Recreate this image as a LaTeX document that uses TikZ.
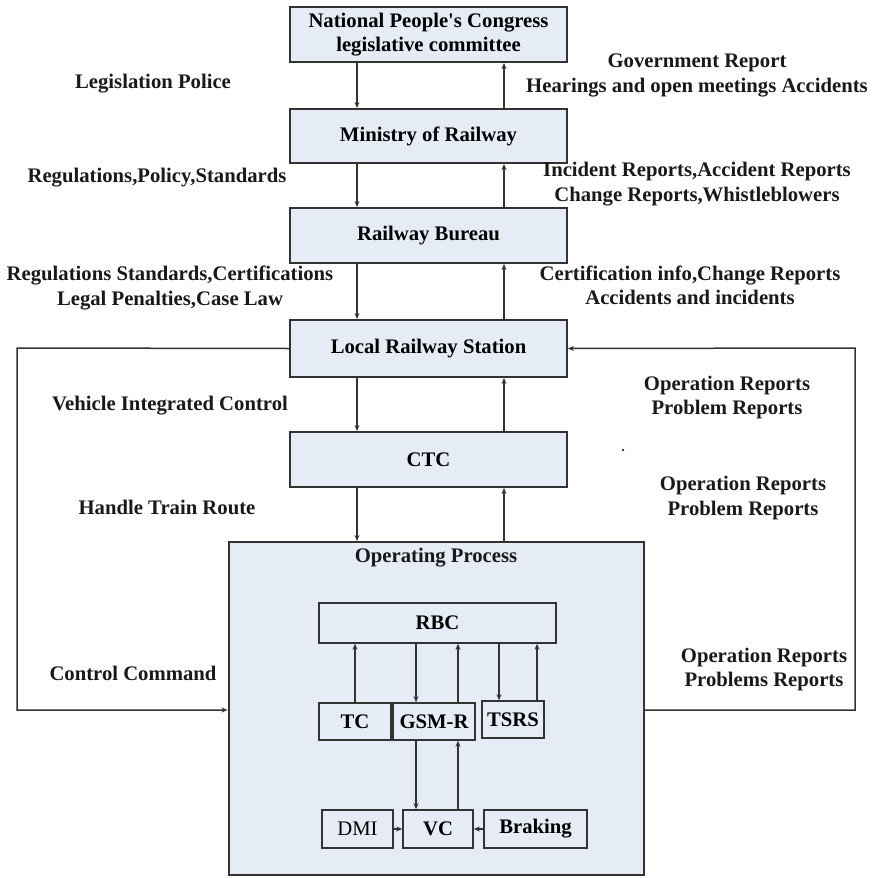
\documentclass[tikz,border=0pt]{standalone}
\usepackage{fontspec}
\setmainfont{Liberation Serif}
\usetikzlibrary{arrows.meta}
\definecolor{boxfill}{HTML}{E6ECF6}
\definecolor{ink}{HTML}{333333}
\begin{document}
\begin{tikzpicture}[x=1pt,y=-1pt,
  font=\fontsize{20.7}{24.5}\selectfont\bfseries,
  box/.style={draw=ink,line width=2pt,fill=boxfill,inner sep=0pt},
  inbox/.style={draw=ink,line width=1.6pt,fill=boxfill,inner sep=0pt},
  flow/.style={draw=ink,line width=1.5pt,-{Stealth[length=6pt,width=5pt]}},
  lbl/.style={align=center,inner sep=0pt,text=black!90}]
\useasboundingbox (0,0) rectangle (871,878);

% main chain of boxes
\node[box,minimum width=277pt,minimum height=55pt,align=center] (npc) at (428.5,34.5) {National People\textquotesingle s Congress\\legislative committee};
\node[box,minimum width=277pt,minimum height=54pt] (mor) at (428.5,136) {Ministry of Railway};
\node[box,minimum width=277pt,minimum height=55pt] (rb) at (428.5,235.5) {Railway Bureau};
\node[box,minimum width=277pt,minimum height=57pt] (lrs) at (428.5,348.5) {Local Railway Station};
\node[box,minimum width=277pt,minimum height=55pt] (ctc) at (428.5,459.5) {CTC};
\node[box,minimum width=415pt,minimum height=333pt] (op) at (436,708.5) {};
\node[lbl] (optitle) at (436,558) {Operating Process};

% inner components
\node[inbox,minimum width=237pt,minimum height=40pt] (rbc) at (437.5,623) {RBC};
\node[inbox,minimum width=72pt,minimum height=37pt] (tc) at (355,721.5) {TC};
\node[inbox,minimum width=82pt,minimum height=37pt] (gsm) at (434,721.5) {GSM-R};
\node[inbox,minimum width=62pt,minimum height=37pt] (tsrs) at (513,719.5) {TSRS};
\node[inbox,minimum width=71pt,minimum height=38pt,font=\fontsize{20.7}{24.5}\selectfont\mdseries] (dmi) at (357.5,829) {DMI};
\node[inbox,minimum width=70pt,minimum height=38pt] (vc) at (438,829) {VC};
\node[inbox,minimum width=103pt,minimum height=38pt] (brk) at (535.5,829) {Braking};

% vertical connectors between the levels
\foreach \a/\b in {npc/mor,mor/rb,rb/lrs,lrs/ctc,ctc/op}{
  \draw[flow] (\a.south -| 357,0) -- (\b.north -| 357,0);
  \draw[flow] (\b.north -| 504,0) -- (\a.south -| 504,0);
}

% connectors inside the operating process
\draw[flow] (tc.north) -- (rbc.south -| tc.north);
\draw[flow] (rbc.south -| 416,0) -- (gsm.north -| 416,0);
\draw[flow] (gsm.north -| 458,0) -- (rbc.south -| 458,0);
\draw[flow] (rbc.south -| 499,0) -- (tsrs.north -| 499,0);
\draw[flow] (tsrs.north -| 537,0) -- (rbc.south -| 537,0);
\draw[flow] (gsm.south -| 416,0) -- (vc.north -| 416,0);
\draw[flow] (vc.north -| 458,0) -- (gsm.south -| 458,0);
\draw[flow] (dmi.east) -- (vc.west);
\draw[flow] (brk.west) -- (vc.east);

% outer feedback loops
\coordinate (lt) at (17,348);
\coordinate (lb) at (17,710);
\coordinate (rt) at (855,348);
\coordinate (rbt) at (855,710);
\draw[flow] (lrs.west) -- (lt) -- (lb) -- (op.west |- lb);
\draw[flow] (op.east |- rbt) -- (rbt) -- (rt) -- (lrs.east);

% downward labels
\node[lbl] (l1) at (153,84) {Legislation Police};
\node[lbl] (l2) at (157,178) {Regulations,Policy,Standards};
\node[lbl] (l3) at (170,288) {Regulations Standards,Certifications\\Legal Penalties,Case Law};
\node[lbl] (l4) at (170,406) {Vehicle Integrated Control};
\node[lbl] (l5) at (167,507) {Handle Train Route};
\node[lbl] (l6) at (133,673) {Control Command};

% upward labels
\node[lbl] (r1) at (697,75.5) {Government Report\\Hearings and open meetings Accidents};
\node[lbl] (r2) at (697,184) {Incident Reports,Accident Reports\\Change Reports,Whistleblowers};
\node[lbl] (r3) at (690,285.5) {Certification info,Change Reports\\Accidents and incidents};
\node[lbl] (r4) at (727,397.5) {Operation Reports\\Problem Reports};
\node[lbl] (r5) at (743,498) {Operation Reports\\Problem Reports};
\node[lbl] (r6) at (764,669.5) {Operation Reports\\Problems Reports};

\fill[ink] (623,450) circle (1.3pt);
\end{tikzpicture}
\end{document}
